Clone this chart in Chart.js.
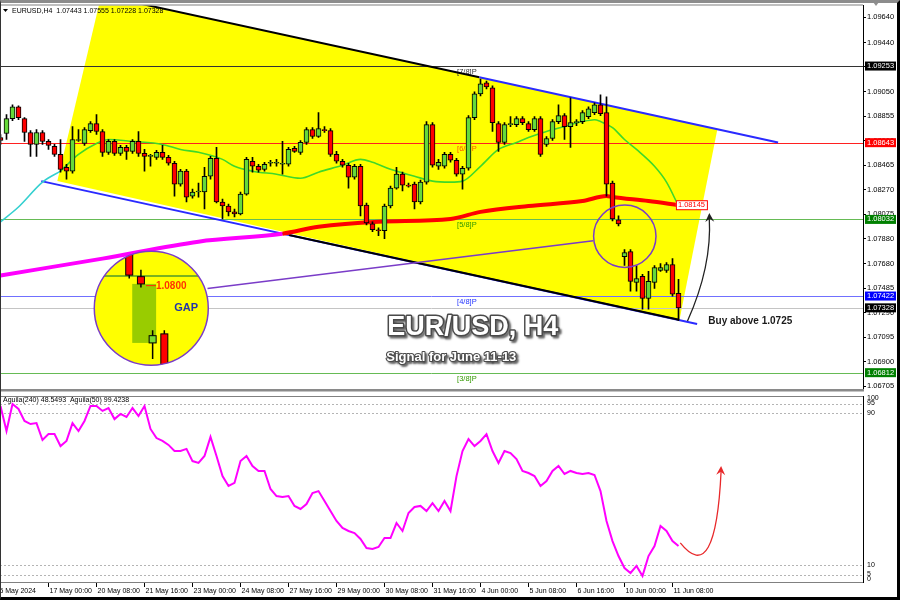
<!DOCTYPE html>
<html>
<head>
<meta charset="utf-8">
<title>EUR/USD H4</title>
<script src="https://cdn.jsdelivr.net/npm/chart.js@4.4.1/dist/chart.umd.min.js"></script>
<style>
  html, body { margin: 0; padding: 0; background: #fff; }
  #wrap { position: relative; width: 900px; height: 600px; overflow: hidden; background: #fff; }
  #priceBox { position: absolute; left: 0; top: 0; width: 900px; height: 395px; }
  #indBox { position: absolute; left: 0; top: 393px; width: 900px; height: 207px; }
  #frame {
    position: absolute; left: 0; top: 0; width: 900px; height: 600px; box-sizing: border-box;
    border-top: 3px solid #8c8c8c; border-right: 3px solid #000; border-bottom: 3px solid #000;
    border-left: 1px solid #333; pointer-events: none;
  }
</style>
</head>
<body>
<div id="wrap">
  <div id="priceBox"><canvas id="priceChart" width="900" height="395"></canvas></div>
  <div id="indBox"><canvas id="indChart" width="900" height="207"></canvas></div>
  <div id="frame"></div>
</div>
<script>
// H4 candles, bar 0 = 15 May 16:00 ... bar 113 = 11 Jun 12:00
const openP = [
  1.08684, 1.08716, 1.08834, 1.08929, 1.08834, 1.08724, 1.08629, 1.08724, 1.08653, 1.08613,
  1.08550, 1.08447, 1.08416, 1.08660, 1.08637, 1.08739, 1.08795, 1.08732, 1.08566, 1.08653,
  1.08558, 1.08605, 1.08574, 1.08653, 1.08558, 1.08534, 1.08526, 1.08566, 1.08526, 1.08479,
  1.08313, 1.08416, 1.08218, 1.08250, 1.08250, 1.08376, 1.08518, 1.08171, 1.08139, 1.08092,
  1.08076, 1.08234, 1.08495, 1.08455, 1.08431, 1.08479, 1.08479, 1.08471, 1.08471, 1.08597,
  1.08566, 1.08645, 1.08747, 1.08692, 1.08747, 1.08739, 1.08550, 1.08495, 1.08463, 1.08368,
  1.08455, 1.08147, 1.07997, 1.07950, 1.07942, 1.08139, 1.08281, 1.08392, 1.08305, 1.08313,
  1.08171, 1.08329, 1.08787, 1.08455, 1.08455, 1.08550, 1.08503, 1.08392, 1.08439, 1.08842,
  1.09032, 1.09119, 1.09079, 1.08795, 1.08645, 1.08787, 1.08787, 1.08834, 1.08795, 1.08747,
  1.08834, 1.08629, 1.08676, 1.08811, 1.08858, 1.08771, 1.08803, 1.08811, 1.08850, 1.08882,
  1.08945, 1.08882, 1.08321, 1.08029, 1.07736, 1.07776, 1.07531, 1.07578, 1.07404, 1.07531,
  1.07626, 1.07626, 1.07673, 1.07443
];
const highP = [
  1.08708, 1.08866, 1.08945, 1.08937, 1.08842, 1.08739, 1.08747, 1.08739, 1.08668, 1.08629,
  1.08668, 1.08471, 1.08771, 1.08747, 1.08763, 1.08811, 1.08866, 1.08747, 1.08668, 1.08668,
  1.08621, 1.08621, 1.08668, 1.08732, 1.08589, 1.08550, 1.08582, 1.08621, 1.08542, 1.08495,
  1.08431, 1.08431, 1.08273, 1.08321, 1.08447, 1.08534, 1.08605, 1.08194, 1.08155, 1.08115,
  1.08250, 1.08526, 1.08526, 1.08471, 1.08487, 1.08503, 1.08510, 1.08653, 1.08605, 1.08613,
  1.08660, 1.08763, 1.08763, 1.08882, 1.08771, 1.08755, 1.08574, 1.08510, 1.08479, 1.08471,
  1.08471, 1.08163, 1.08013, 1.07966, 1.08155, 1.08297, 1.08447, 1.08408, 1.08321, 1.08329,
  1.08345, 1.08811, 1.08803, 1.08510, 1.08566, 1.08566, 1.08518, 1.08455, 1.08858, 1.09048,
  1.09150, 1.09134, 1.09095, 1.08811, 1.08803, 1.08850, 1.08850, 1.08850, 1.08811, 1.08850,
  1.08850, 1.08692, 1.08826, 1.08945, 1.08874, 1.09000, 1.08826, 1.08898, 1.08929, 1.08961,
  1.09024, 1.09008, 1.08337, 1.08060, 1.07792, 1.07792, 1.07665, 1.07594, 1.07618, 1.07665,
  1.07681, 1.07689, 1.07720, 1.07555
];
const lowP = [
  1.08629, 1.08668, 1.08818, 1.08826, 1.08653, 1.08534, 1.08534, 1.08629, 1.08589, 1.08534,
  1.08408, 1.08352, 1.08400, 1.08653, 1.08621, 1.08724, 1.08708, 1.08534, 1.08550, 1.08542,
  1.08542, 1.08510, 1.08558, 1.08534, 1.08416, 1.08455, 1.08510, 1.08510, 1.08463, 1.08218,
  1.08297, 1.08171, 1.08202, 1.08210, 1.08115, 1.08352, 1.08163, 1.08036, 1.08060, 1.08052,
  1.08068, 1.08226, 1.08408, 1.08408, 1.08416, 1.08455, 1.08455, 1.08392, 1.08455, 1.08566,
  1.08550, 1.08629, 1.08676, 1.08684, 1.08724, 1.08534, 1.08479, 1.08447, 1.08281, 1.08352,
  1.08060, 1.07989, 1.07934, 1.07902, 1.07878, 1.08123, 1.08273, 1.08258, 1.08289, 1.08115,
  1.08155, 1.08313, 1.08447, 1.08431, 1.08439, 1.08487, 1.08376, 1.08273, 1.08424, 1.08826,
  1.09016, 1.09071, 1.08732, 1.08574, 1.08629, 1.08771, 1.08771, 1.08787, 1.08732, 1.08732,
  1.08534, 1.08613, 1.08660, 1.08795, 1.08668, 1.08605, 1.08779, 1.08795, 1.08834, 1.08866,
  1.08858, 1.08218, 1.08021, 1.07981, 1.07665, 1.07460, 1.07460, 1.07318, 1.07318, 1.07483,
  1.07618, 1.07610, 1.07420, 1.07228
];
const closeP = [
  1.08660, 1.08834, 1.08929, 1.08842, 1.08724, 1.08629, 1.08724, 1.08653, 1.08621, 1.08550,
  1.08431, 1.08416, 1.08668, 1.08668, 1.08747, 1.08795, 1.08732, 1.08566, 1.08653, 1.08558,
  1.08605, 1.08574, 1.08653, 1.08558, 1.08534, 1.08542, 1.08566, 1.08526, 1.08479, 1.08313,
  1.08416, 1.08210, 1.08250, 1.08258, 1.08376, 1.08518, 1.08171, 1.08139, 1.08092, 1.08076,
  1.08234, 1.08510, 1.08455, 1.08424, 1.08471, 1.08487, 1.08487, 1.08479, 1.08589, 1.08574,
  1.08645, 1.08747, 1.08692, 1.08755, 1.08739, 1.08550, 1.08495, 1.08463, 1.08368, 1.08455,
  1.08139, 1.08005, 1.07950, 1.07942, 1.08139, 1.08281, 1.08392, 1.08305, 1.08297, 1.08171,
  1.08329, 1.08787, 1.08463, 1.08487, 1.08550, 1.08503, 1.08392, 1.08439, 1.08842, 1.09032,
  1.09111, 1.09087, 1.08803, 1.08645, 1.08787, 1.08795, 1.08834, 1.08803, 1.08747, 1.08834,
  1.08550, 1.08676, 1.08811, 1.08858, 1.08771, 1.08803, 1.08811, 1.08882, 1.08913, 1.08945,
  1.08874, 1.08313, 1.08036, 1.07997, 1.07768, 1.07539, 1.07562, 1.07404, 1.07539, 1.07649,
  1.07649, 1.07673, 1.07436, 1.07328
];

// Moving averages, read at selected bars
const maCyanIdx = [0, 3, 7, 10];
const maCyanVal = [1.08013, 1.08131, 1.08329, 1.08416];
const maFastIdx = [10, 13, 16, 18, 22, 27, 30, 33, 37, 39, 42, 46, 50, 53, 57, 60, 62, 65, 69, 72,
  75, 77, 80, 83, 86, 88, 91, 94, 97, 99, 100, 102, 104, 106, 109, 111, 113];
const maFastVal = [1.08416, 1.08550, 1.08637, 1.08668, 1.08653, 1.08629, 1.08589, 1.08566, 1.08510, 1.08455,
  1.08416, 1.08392, 1.08360, 1.08408, 1.08463, 1.08510, 1.08487, 1.08431, 1.08376, 1.08337,
  1.08329, 1.08337, 1.08455, 1.08589, 1.08645, 1.08684, 1.08732, 1.08771, 1.08811, 1.08826,
  1.08811, 1.08763, 1.08668, 1.08589, 1.08455, 1.08329, 1.08139];
const maSlowIdx = [0, 17, 33, 47, 53, 63, 75, 80, 88, 97, 101, 102, 108, 113];
const maSlowVal = [1.07586, 1.07720, 1.07855, 1.07918, 1.07973, 1.08013, 1.08036, 1.08092, 1.08139, 1.08178,
  1.08218, 1.08210, 1.08178, 1.08145];

// Aguila oscillator, one value per bar
const indVals = [
  93.7, 80.5, 94.7, 92.1, 85.8, 84.2, 84.7, 75.8, 78.9, 78.9,
  72.6, 75.3, 84.7, 80.5, 85.8, 93.7, 93.7, 91.1, 92.6, 86.8,
  89.5, 87.9, 92.6, 88.4, 93.7, 81.6, 76.8, 75.3, 73.2, 70.0,
  70.0, 71.1, 64.7, 63.7, 67.4, 77.4, 67.4, 56.8, 51.6, 53.2,
  64.7, 67.4, 62.1, 59.5, 59.5, 50.0, 46.3, 45.8, 46.3, 41.1,
  39.5, 42.1, 47.9, 48.9, 43.7, 38.4, 33.2, 29.5, 27.9, 26.8,
  23.7, 18.9, 18.4, 19.5, 24.2, 24.2, 32.1, 27.9, 37.4, 40.5,
  41.1, 38.4, 42.6, 38.4, 43.7, 38.4, 56.8, 70.0, 76.3, 72.6,
  75.3, 78.9, 70.0, 63.7, 70.0, 68.9, 65.8, 59.5, 58.4, 56.8,
  51.6, 54.2, 59.5, 62.1, 57.9, 59.5, 58.4, 57.9, 58.4, 57.4,
  48.9, 33.2, 22.6, 14.7, 8.4, 5.8, 9.5, 4.2, 14.7, 20.0,
  30.5, 27.9, 22.6, 20.0
];
const indLevels = [95, 90, 10, 5];
const indLabels = [100, 95, 90, 10, 5, 0];

// Axis labels
const priceTicks = [1.0964, 1.0944, 1.0925, 1.0905, 1.08855, 1.0866, 1.08465, 1.0827, 1.08075,
  1.0788, 1.0768, 1.07485, 1.0729, 1.07095, 1.069, 1.06705];
const xTickIdx = [-1, 8, 16, 24, 32, 40, 48, 56, 64, 72, 80, 88, 96, 104, 112];
const xTickLabels = ["15 May 2024", "17 May 00:00", "20 May 08:00", "21 May 16:00", "23 May 00:00",
  "24 May 08:00", "27 May 16:00", "29 May 00:00", "30 May 08:00", "31 May 16:00", "4 Jun 00:00",
  "5 Jun 08:00", "6 Jun 16:00", "10 Jun 00:00", "11 Jun 08:00"];

// Horizontal levels (Murray lines + bid)
const levelPrices = [1.09253, 1.08643, 1.08032, 1.07422, 1.07328, 1.06812];
const levelNames = ["[7/8]P", "[6/8]P", "[5/8]P", "[4/8]P", "", "[3/8]P"];

// Styling
const X_MIN = -0.0833, X_MAX = 143.75;
const BULL = "#66d93a", BEAR = "#ff0000";
const levelLine = ["#333333", "#ff2020", "#66bb55", "#7070ff", "#c4c4c4", "#66bb55"];
const levelBox = ["#000000", "#ff0000", "#008000", "#0000ff", "#000000", "#008000"];
const levelText = ["#333333", "#ff5500", "#339900", "#2233ff", "", "#339900"];
const FONT = '"Liberation Sans", Arial, sans-serif';

// Drawing objects in data space (bar index, price)
const channelFill = [[16.8, 1.09818], [9.47, 1.08337], [113.13, 1.07223], [119.47, 1.08747]];
const channelSegs = [
  { a: [6.8, 1.08337], b: [116.1, 1.07199], color: "#2a2aff" },
  { a: [48.1, 1.07908], b: [113.1, 1.07233], color: "#000000" },
  { a: [20.97, 1.09774], b: [79.8, 1.09163], color: "#000000" },
  { a: [79.8, 1.09163], b: [129.6, 1.08645], color: "#2a2aff" },
];
const connector = { a: [34.5, 1.07483], b: [98.8, 1.07863] };
const smallCircle = { k: 104.05, p: 1.07898, rBars: 5.2 };
const inset = { k: 25.13, p: 1.07325, rBars: 9.5, src: [102, 103, 104, 105], anchor: 1.08,
  dy: -25, dx: -4.5, sx: 11.7, sy: 1.8 };
const buyArrow = { a: [114.5, 1.07223], c: [118.6, 1.07661], b: [118.13, 1.08084] };
const indArrow = { a: [113.3, 21.6], c: [119.2, -1.8], b: [120.1, 62.1] };

const arrowHead = (ctx, x, y, ang, len, wid, color) => {
  ctx.save();
  ctx.translate(x, y);
  ctx.rotate(ang);
  ctx.beginPath();
  ctx.moveTo(0, 0);
  ctx.lineTo(-len, -wid);
  ctx.lineTo(-len * 0.65, 0);
  ctx.lineTo(-len, wid);
  ctx.closePath();
  ctx.fillStyle = color;
  ctx.fill();
  ctx.restore();
};

const embossText = (ctx, text, x, y, size) => {
  ctx.save();
  ctx.font = `bold ${size}px ${FONT}`;
  ctx.textBaseline = "alphabetic";
  ctx.lineJoin = "round";
  ctx.shadowColor = "rgba(0,0,0,0.6)";
  ctx.shadowOffsetX = 2;
  ctx.shadowOffsetY = 2;
  ctx.shadowBlur = 2;
  ctx.strokeStyle = "#4a4a4a";
  ctx.lineWidth = size > 20 ? 3 : 2.2;
  ctx.strokeText(text, x, y);
  ctx.shadowColor = "transparent";
  ctx.fillStyle = "#ffffff";
  ctx.fillText(text, x, y);
  ctx.restore();
};

// Price panel decorations
const priceDecor = {
  id: "priceDecor",
  beforeDatasetsDraw(chart) {
    const { ctx, chartArea: a } = chart;
    const X = (k) => chart.scales.x.getPixelForValue(k);
    const Y = (p) => chart.scales.y.getPixelForValue(p);
    ctx.save();
    ctx.beginPath();
    ctx.rect(a.left, a.top, a.right - a.left, a.bottom - a.top);
    ctx.clip();

    // yellow channel
    ctx.beginPath();
    channelFill.forEach(([k, p], i) => (i ? ctx.lineTo(X(k), Y(p)) : ctx.moveTo(X(k), Y(p))));
    ctx.closePath();
    ctx.fillStyle = "#ffff00";
    ctx.fill();

    // level lines and Murray labels
    levelPrices.forEach((p, i) => {
      const y = Math.round(Y(p)) + 0.5;
      ctx.strokeStyle = levelLine[i];
      ctx.lineWidth = 1;
      ctx.beginPath();
      ctx.moveTo(a.left, y);
      ctx.lineTo(a.right, y);
      ctx.stroke();
      if (levelNames[i]) {
        ctx.font = `7.5px ${FONT}`;
        ctx.fillStyle = levelText[i];
        ctx.textBaseline = "top";
        ctx.fillText(levelNames[i], X(76.1), y + 1.5);
      }
    });

    // channel borders
    ctx.lineWidth = 2;
    channelSegs.forEach((s) => {
      ctx.strokeStyle = s.color;
      ctx.beginPath();
      ctx.moveTo(X(s.a[0]), Y(s.a[1]));
      ctx.lineTo(X(s.b[0]), Y(s.b[1]));
      ctx.stroke();
    });
    ctx.restore();
  },

  afterDatasetsDraw(chart) {
    const { ctx, chartArea: a } = chart;
    const X = (k) => chart.scales.x.getPixelForValue(k);
    const Y = (p) => chart.scales.y.getPixelForValue(p);
    ctx.save();
    ctx.beginPath();
    ctx.rect(a.left, a.top, a.right - a.left, a.bottom - a.top);
    ctx.clip();

    // connector line and small circle
    ctx.strokeStyle = "#7a3cc8";
    ctx.lineWidth = 1.5;
    ctx.beginPath();
    ctx.moveTo(X(connector.a[0]), Y(connector.a[1]));
    ctx.lineTo(X(connector.b[0]), Y(connector.b[1]));
    ctx.stroke();
    const scx = X(smallCircle.k), scy = Y(smallCircle.p);
    ctx.beginPath();
    ctx.arc(scx, scy, X(smallCircle.k + smallCircle.rBars) - scx, 0, Math.PI * 2);
    ctx.stroke();

    // magnified gap inset
    const cx = X(inset.k), cy = Y(inset.p);
    const r = X(inset.k + inset.rBars) - cx;
    ctx.save();
    ctx.beginPath();
    ctx.arc(cx, cy, r, 0, Math.PI * 2);
    ctx.fillStyle = "#ffff00";
    ctx.fill();
    ctx.clip();
    const baseY = Y(inset.anchor);
    const iy = (p) => cy + inset.dy + (Y(p) - baseY) * inset.sy;
    const ix = (k) => cx + inset.dx + (k - 103.5) * inset.sx;
    ctx.fillStyle = "#99cc00";
    const gTop = iy(closeP[103]), gBot = iy(openP[104]);
    ctx.fillRect(ix(103) - 8.7, gTop, ix(104) + 3.5 - (ix(103) - 8.7), gBot - gTop);
    ctx.strokeStyle = "#4f9a2a";
    ctx.lineWidth = 1.5;
    ctx.beginPath();
    ctx.moveTo(cx - r, iy(levelPrices[2]));
    ctx.lineTo(cx + r, iy(levelPrices[2]));
    ctx.stroke();
    inset.src.forEach((k) => {
      const x = ix(k);
      ctx.strokeStyle = "#000";
      ctx.lineWidth = 1.5;
      ctx.beginPath();
      ctx.moveTo(x, iy(highP[k]));
      ctx.lineTo(x, iy(lowP[k]));
      ctx.stroke();
      const t = iy(Math.max(openP[k], closeP[k])), b = iy(Math.min(openP[k], closeP[k]));
      ctx.fillStyle = closeP[k] >= openP[k] ? "#77dd33" : "#ff0000";
      ctx.fillRect(x - 3.5, t, 7, Math.max(b - t, 2));
      ctx.lineWidth = 1;
      ctx.strokeRect(x - 3.5, t, 7, Math.max(b - t, 2));
    });
    ctx.font = `bold 10px ${FONT}`;
    ctx.fillStyle = "#ff3300";
    ctx.textBaseline = "middle";
    ctx.fillText("\u20141.0800", ix(103) + 5, iy(inset.anchor) + 3);
    ctx.font = `bold 11px ${FONT}`;
    ctx.fillStyle = "#2233aa";
    ctx.fillText("GAP", cx + 23, cy);
    ctx.restore();
    ctx.strokeStyle = "#7a3cc8";
    ctx.lineWidth = 1.5;
    ctx.beginPath();
    ctx.arc(cx, cy, r, 0, Math.PI * 2);
    ctx.stroke();

    // label at the end of the slow MA
    const ly = Y(maSlowVal[maSlowVal.length - 1]);
    const lx = X(117.9) - 32;
    ctx.fillStyle = "#ffffff";
    ctx.fillRect(lx, ly - 4.5, 32, 9);
    ctx.strokeStyle = "#ff0000";
    ctx.lineWidth = 1;
    ctx.strokeRect(lx + 0.5, ly - 4.5, 31, 9);
    ctx.font = `7.5px ${FONT}`;
    ctx.fillStyle = "#ff0000";
    ctx.textBaseline = "middle";
    ctx.fillText(maSlowVal[maSlowVal.length - 1].toFixed(5), lx + 2, ly);

    // buy arrow
    const [ax, ay] = [X(buyArrow.a[0]), Y(buyArrow.a[1])];
    const [qx, qy] = [X(buyArrow.c[0]), Y(buyArrow.c[1])];
    const [bx, by] = [X(buyArrow.b[0]), Y(buyArrow.b[1])];
    ctx.strokeStyle = "#222";
    ctx.lineWidth = 1.3;
    ctx.beginPath();
    ctx.moveTo(ax, ay);
    ctx.quadraticCurveTo(qx, qy, bx, by + 5);
    ctx.stroke();
    arrowHead(ctx, bx, by, Math.atan2(by - qy, bx - qx), 9, 4.5, "#222");

    // texts
    embossText(ctx, "EUR/USD, H4", X(64.47), Y(1.07112), 27);
    embossText(ctx, "Signal for June 11-13", X(64.3), Y(1.06907), 13);
    ctx.font = `bold 10px ${FONT}`;
    ctx.fillStyle = "#1a1a1a";
    ctx.textBaseline = "alphabetic";
    ctx.fillText("Buy above 1.0725", X(117.97), Y(1.07199));
    ctx.restore();
  },

  afterDraw(chart) {
    const { ctx, chartArea: a } = chart;
    const Y = (p) => chart.scales.y.getPixelForValue(p);
    ctx.save();
    // panel frame
    ctx.fillStyle = "#808080";
    ctx.fillRect(a.left, a.top - 1, a.right - a.left, 1);
    ctx.fillStyle = "#8a8a8a";
    ctx.fillRect(a.left, a.bottom - 0.5, a.right - a.left + 1, 2.5);

    // price boxes on the axis
    ctx.font = `7.5px ${FONT}`;
    ctx.textBaseline = "middle";
    levelPrices.forEach((p, i) => {
      const y = Y(p);
      ctx.fillStyle = levelBox[i];
      ctx.fillRect(a.right + 2, y - 4.5, 31, 9);
      ctx.fillStyle = "#ffffff";
      ctx.fillText(p.toFixed(5), a.right + 4, y);
    });

    // header
    ctx.fillStyle = "#000";
    ctx.beginPath();
    ctx.moveTo(3, 9);
    ctx.lineTo(8, 9);
    ctx.lineTo(5.5, 12);
    ctx.closePath();
    ctx.fill();
    ctx.font = `7px ${FONT}`;
    ctx.fillText("EURUSD,H4  1.07443 1.07555 1.07228 1.07328", 12, 11);
    ctx.fillStyle = "#909090";
    ctx.beginPath();
    ctx.moveTo(873, 2);
    ctx.lineTo(879, 2);
    ctx.lineTo(876, 6);
    ctx.closePath();
    ctx.fill();
    ctx.restore();
  },
};

// Indicator panel decorations
const indDecor = {
  id: "indDecor",
  beforeDatasetsDraw(chart) {
    const { ctx, chartArea: a } = chart;
    const Y = (v) => chart.scales.y.getPixelForValue(v);
    ctx.save();
    ctx.strokeStyle = "#b4b4b4";
    ctx.setLineDash([2, 2]);
    ctx.lineWidth = 1;
    indLevels.forEach((v) => {
      const y = Math.round(Y(v)) + 0.5;
      ctx.beginPath();
      ctx.moveTo(a.left, y);
      ctx.lineTo(a.right, y);
      ctx.stroke();
    });
    ctx.restore();
  },
  afterDatasetsDraw(chart) {
    const { ctx } = chart;
    const X = (k) => chart.scales.x.getPixelForValue(k);
    const Y = (v) => chart.scales.y.getPixelForValue(v);
    const [ax, ay] = [X(indArrow.a[0]), Y(indArrow.a[1])];
    const [qx, qy] = [X(indArrow.c[0]), Y(indArrow.c[1])];
    const [bx, by] = [X(indArrow.b[0]), Y(indArrow.b[1])];
    ctx.save();
    ctx.strokeStyle = "#e8282a";
    ctx.lineWidth = 1.3;
    ctx.beginPath();
    ctx.moveTo(ax, ay);
    ctx.quadraticCurveTo(qx, qy, bx, by + 5);
    ctx.stroke();
    arrowHead(ctx, bx, by, Math.atan2(by - qy, bx - qx), 9, 4.5, "#e8282a");
    ctx.restore();
  },
  afterDraw(chart) {
    const { ctx, chartArea: a } = chart;
    const X = (k) => chart.scales.x.getPixelForValue(k);
    const Y = (v) => chart.scales.y.getPixelForValue(v);
    const top = a.top + 2, bottom = a.bottom - 2;
    ctx.save();
    // frame
    ctx.fillStyle = "#808080";
    ctx.fillRect(a.left, top, a.right - a.left, 1);
    ctx.fillRect(a.left, bottom, a.right - a.left, 1);
    ctx.fillStyle = "#000";
    ctx.fillRect(a.right, top, 1, bottom - top + 1);

    // title
    ctx.font = `7px ${FONT}`;
    ctx.textBaseline = "middle";
    ctx.fillText("Aguila(240) 48.5493  Aguila(50) 99.4238", 3, top + 4.5);

    // right labels
    indLabels.forEach((v) => {
      const y = Math.min(Math.max(Y(v), top + 2), bottom - 3);
      ctx.fillText(String(v), a.right + 4, y);
    });

    // time axis
    ctx.font = `7px ${FONT}`;
    xTickIdx.forEach((k, i) => {
      const x = Math.round(X(k)) + 0.5;
      ctx.fillRect(x - 0.5, bottom + 1, 1, 4);
      ctx.fillText(xTickLabels[i], x + 1, bottom + 9);
    });
    ctx.restore();
  },
};

// Build the price chart
const initPriceChart = () => {
  const bodies = openP.map((o, i) => ({ x: i, y: [Math.min(o, closeP[i]), Math.max(o, closeP[i])] }));
  const wicks = openP.map((o, i) => ({ x: i, y: [lowP[i], highP[i]] }));
  const bodyColors = openP.map((o, i) => (closeP[i] >= o ? BULL : BEAR));

  new Chart(document.getElementById("priceChart"), {
    type: "bar",
    data: {
      datasets: [
        {
          type: "line",
          data: maCyanIdx.map((k, i) => ({ x: k, y: maCyanVal[i] })),
          borderColor: "#35d0d0",
          borderWidth: 1.6,
          pointRadius: 0,
          cubicInterpolationMode: "monotone",
          order: 3,
        },
        {
          type: "line",
          data: maFastIdx.map((k, i) => ({ x: k, y: maFastVal[i] })),
          borderColor: "#3fd82a",
          borderWidth: 1.6,
          pointRadius: 0,
          cubicInterpolationMode: "monotone",
          order: 3,
        },
        {
          type: "line",
          data: maSlowIdx.map((k, i) => ({ x: k, y: maSlowVal[i] })),
          borderColor: "#ff0000",
          borderWidth: 4,
          pointRadius: 0,
          cubicInterpolationMode: "monotone",
          segment: { borderColor: (c) => (c.p1.parsed.x <= 47 ? "#ff00ff" : "#ff0000") },
          order: 3,
        },
        {
          data: wicks,
          backgroundColor: "#000",
          barThickness: 1,
          grouped: false,
          order: 2,
        },
        {
          data: bodies,
          backgroundColor: bodyColors,
          borderColor: "#000",
          borderWidth: 1,
          borderSkipped: false,
          barThickness: 5,
          minBarLength: 1,
          grouped: false,
          order: 1,
        },
      ],
    },
    options: {
      responsive: false,
      animation: false,
      layout: { padding: { top: 5, bottom: 3, left: 0, right: 0 } },
      plugins: { legend: { display: false }, tooltip: { enabled: false } },
      scales: {
        x: { type: "linear", min: X_MIN, max: X_MAX, display: false, offset: false },
        y: {
          position: "right",
          min: 1.06678,
          max: 1.09735,
          afterBuildTicks: (ax) => { ax.ticks = priceTicks.map((v) => ({ value: v })); },
          afterFit: (ax) => { ax.width = 37; },
          ticks: {
            autoSkip: false,
            callback: (v) => Number(v).toFixed(5),
            font: { family: "Liberation Sans", size: 7.5 },
            color: "#000",
            padding: 1,
          },
          grid: { drawOnChartArea: false, drawTicks: true, tickLength: 3, color: "#000" },
          border: { display: true, color: "#000" },
        },
      },
    },
    plugins: [priceDecor],
  });
};

// Build the oscillator chart
const initIndicatorChart = () => {
  new Chart(document.getElementById("indChart"), {
    type: "line",
    data: {
      datasets: [
        {
          data: indVals.map((v, i) => ({ x: i, y: v })),
          borderColor: "#ff00ff",
          borderWidth: 2,
          pointRadius: 0,
          tension: 0,
        },
      ],
    },
    options: {
      responsive: false,
      animation: false,
      layout: { padding: { top: 1, bottom: 16, left: 0, right: 37 } },
      plugins: { legend: { display: false }, tooltip: { enabled: false } },
      scales: {
        x: { type: "linear", min: X_MIN, max: X_MAX, display: false },
        y: { min: 0, max: 100, display: false },
      },
    },
    plugins: [indDecor],
  });
};

document.addEventListener("DOMContentLoaded", () => {
  initPriceChart();
  initIndicatorChart();
});
</script>
</body>
</html>
